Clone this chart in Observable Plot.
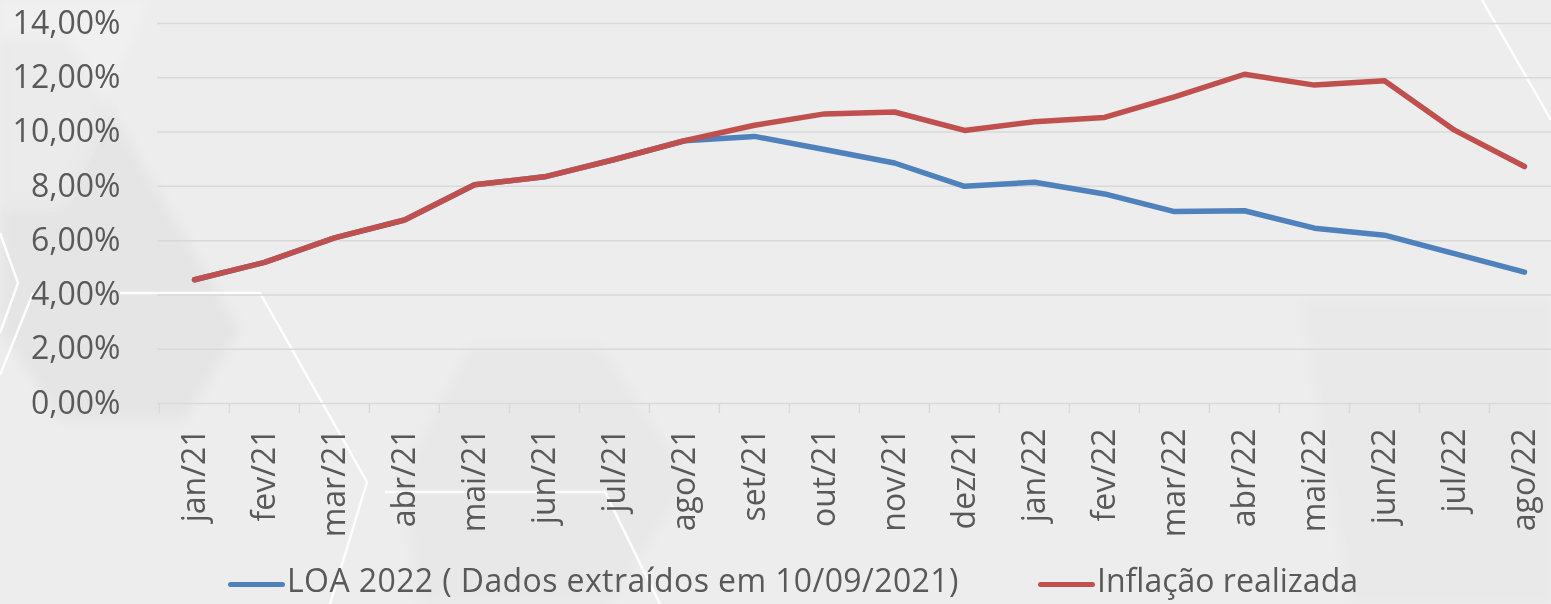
<!DOCTYPE html>
<html>
<head>
<meta charset="utf-8">
<script src="https://cdn.jsdelivr.net/npm/d3@7"></script>
<script src="https://cdn.jsdelivr.net/npm/@observablehq/plot@0.6"></script>
<style>
  html, body { margin: 0; padding: 0; }
  body {
    width: 1551px; height: 604px; overflow: hidden; position: relative;
    background-color: #ededed;
    font-family: "Open Sans", sans-serif;
  }
  #bg { position: absolute; left: 0; top: 0; }
  #chart { position: absolute; left: 0; top: 0; }
  #legend { position: absolute; left: 0; top: 556px; width: 1551px; height: 48px; }
  .item { position: absolute; top: 0; height: 48px; line-height: 48px; font-size: 32px; color: #595959; white-space: nowrap; }
  .sw { display: inline-block; width: 57px; height: 5.5px; border-radius: 3px; vertical-align: middle; margin-right: 2px; position: relative; top: 1px; }
</style>
</head>
<body>
<svg id="bg" width="1551" height="604" xmlns="http://www.w3.org/2000/svg">
  <defs>
    <filter id="blur"><feGaussianBlur stdDeviation="6"/></filter>
  </defs>
  <g filter="url(#blur)">
    <polygon points="0,37 68,37 240,330 185,420 60,420 0,330" fill="#000" opacity="0.03"/>
    <polygon points="470,345 600,345 690,480 610,604 420,604 400,480" fill="#000" opacity="0.02"/>
    <polygon points="0,0 150,0 60,200 0,200" fill="#fff" opacity="0.2"/>
    <polygon points="1300,300 1551,300 1551,604 1350,604" fill="#000" opacity="0.015"/>
  </g>
  <g fill="none" stroke="#fff" stroke-width="2.5" opacity="0.9">
    <polyline points="0,233 18,283 0,333"/>
    <polyline points="120,293 260,293 367,482 330,604"/>
    <polyline points="385,492 605,492 660,604"/>
    <polyline points="33,293 0,375"/>
    <polyline points="1482,0 1551,120"/>
  </g>
</svg>
<div id="chart"></div>
<div id="legend">
  <div class="item" style="left:228px; letter-spacing:0.4px"><span class="sw" style="background:#4f81bd"></span>LOA 2022 ( Dados extraídos em 10/09/2021)</div>
  <div class="item" style="left:1038px"><span class="sw" style="background:#c0504d"></span>Inflação realizada</div>
</div>
<script>
const months = ["jan/21","fev/21","mar/21","abr/21","mai/21","jun/21","jul/21","ago/21","set/21","out/21","nov/21","dez/21","jan/22","fev/22","mar/22","abr/22","mai/22","jun/22","jul/22","ago/22"];
const loa2022 = [4.56,5.20,6.10,6.76,8.06,8.35,8.99,9.68,9.84,9.36,8.86,8.00,8.15,7.72,7.07,7.10,6.46,6.20,5.52,4.84];
const inflacao = [4.56,5.20,6.10,6.76,8.06,8.35,8.99,9.68,10.25,10.67,10.74,10.06,10.38,10.54,11.30,12.13,11.73,11.89,10.07,8.73];
const yTicks = [0,2,4,6,8,10,12,14];
const seriesNames = ["LOA 2022 ( Dados extraídos em 10/09/2021)", "Inflação realizada"];
const seriesColors = ["#4f81bd", "#c0504d"];

const data = [
  ...months.map((m, i) => ({month: m, serie: seriesNames[0], value: loa2022[i]})),
  ...months.map((m, i) => ({month: m, serie: seriesNames[1], value: inflacao[i]}))
];

const fmt = d => d.toFixed(2).replace(".", ",") + "%";
const bw = (1561 - 157) / months.length;

const chart = Plot.plot({
  width: 1551,
  height: 556,
  marginLeft: 157,
  marginRight: 0,
  marginTop: 23,
  marginBottom: 153,
  style: {background: "transparent", fontFamily: "Open Sans, sans-serif", color: "#595959", overflow: "visible"},
  x: {type: "band", domain: months, range: [157, 1561], padding: 0, label: null},
  y: {domain: [0, 14], label: null},
  color: {domain: seriesNames, range: seriesColors},
  marks: [
    Plot.ruleY(yTicks, {stroke: "#d9d9d9", strokeWidth: 1.5}),
    Plot.axisY(yTicks, {tickSize: 0, tickPadding: 37, tickFormat: fmt, fontSize: 32, fill: "#595959", label: null}),
    Plot.axisX({tickSize: 10, tickFormat: null, label: null, dx: -bw / 2, stroke: "#d9d9d9", strokeWidth: 1.5, strokeOpacity: 1}),
    Plot.axisX({tickSize: 0, tickPadding: 25, tickRotate: -90, label: null, fontSize: 32, fill: "#595959"}),
    Plot.lineY(data, {x: "month", y: "value", stroke: "serie", z: "serie", strokeWidth: 5.5, strokeLinecap: "round", strokeLinejoin: "round"})
  ]
});
document.getElementById("chart").appendChild(chart);
</script>
</body>
</html>
